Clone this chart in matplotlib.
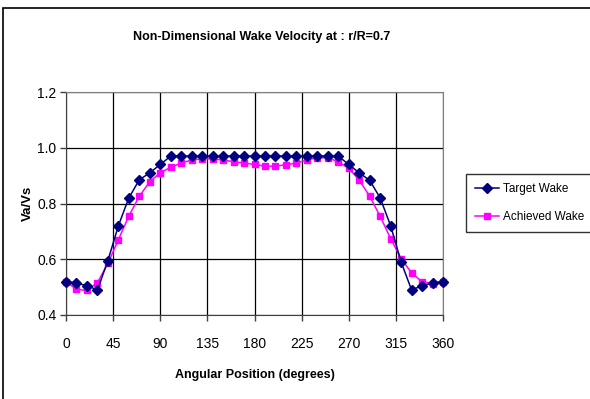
import matplotlib.pyplot as plt
from matplotlib.patches import Rectangle

# angular positions (deg) and wake values
angle = list(range(0, 361, 10))
target = [0.52, 0.515, 0.505, 0.49, 0.595, 0.72, 0.82, 0.885, 0.91, 0.94,
          0.97, 0.97, 0.97, 0.97, 0.97, 0.97, 0.97, 0.97, 0.97, 0.97,
          0.97, 0.97, 0.97, 0.97, 0.97, 0.97, 0.97, 0.94, 0.91, 0.883,
          0.82, 0.72, 0.59, 0.49, 0.505, 0.515, 0.52]
achieved = [0.52, 0.492, 0.488, 0.516, 0.585, 0.67, 0.755, 0.826, 0.878, 0.91,
            0.93, 0.945, 0.956, 0.96, 0.96, 0.956, 0.95, 0.945, 0.94, 0.934,
            0.934, 0.939, 0.945, 0.956, 0.964, 0.964, 0.95, 0.926, 0.884, 0.826,
            0.754, 0.674, 0.602, 0.551, 0.519, 0.513, 0.52]

xticks = [0, 45, 90, 135, 180, 225, 270, 315, 360]
yticks = [0.4, 0.6, 0.8, 1.0, 1.2]

W, H = 590, 399
plt.rcParams['font.family'] = ['Liberation Sans', 'DejaVu Sans']

fig = plt.figure(figsize=(W / 100, H / 100), dpi=100)
# chart frame (right and bottom edges fall outside the picture)
fig.patches.append(Rectangle((3 / W, -0.1), 1.2, (H - 8) / H + 0.1,
                             transform=fig.transFigure, fill=False,
                             edgecolor='black', linewidth=1.2))

ax = fig.add_axes([66 / W, 1 - 315 / H, (443 - 66) / W, (315 - 92) / H])
ax.plot(angle, target, color='#000080', marker='D', markersize=5,
        linewidth=1.1, label='Target Wake', clip_on=False, zorder=4)
ax.plot(angle, achieved, color='#FF00FF', marker='s', markersize=5,
        linewidth=1.1, label='Achieved Wake', clip_on=False, zorder=3)

ax.set_xlim(0, 360)
ax.set_ylim(0.4, 1.2)
ax.set_xticks(xticks)
ax.set_yticks(yticks)
ax.set_yticklabels([f'{v:.1f}' for v in yticks])
ax.grid(True, color='black', linewidth=0.9)
ax.set_axisbelow(True)
for s in ['top', 'right']:
    ax.spines[s].set_color('#808080')
for s in ['left', 'bottom']:
    ax.spines[s].set_color('#404040')
ax.tick_params(direction='out', length=4, width=1, colors='#404040',
               labelcolor='black', labelsize=10)
ax.tick_params(axis='x', pad=12)
ax.tick_params(axis='y', pad=3)

ax.set_xlabel('Angular Position (degrees)', fontsize=9, fontweight='bold',
              labelpad=13)
ax.set_ylabel('Va/Vs', fontsize=9.5, fontweight='bold', labelpad=2)
fig.text(262 / W, 1 - 37 / H, 'Non-Dimensional Wake Velocity at : r/R=0.7',
         ha='center', va='center', fontsize=9, fontweight='bold')

leg = fig.legend(loc='upper left', bbox_to_anchor=(466 / W, 1 - 174 / H),
                 frameon=True, fancybox=False, edgecolor='black',
                 fontsize=8.5, handlelength=2.0, handletextpad=0.3,
                 borderpad=0.8, labelspacing=1.3, borderaxespad=0)
leg.get_frame().set_linewidth(1)

fig.savefig('out.png', dpi=100)
